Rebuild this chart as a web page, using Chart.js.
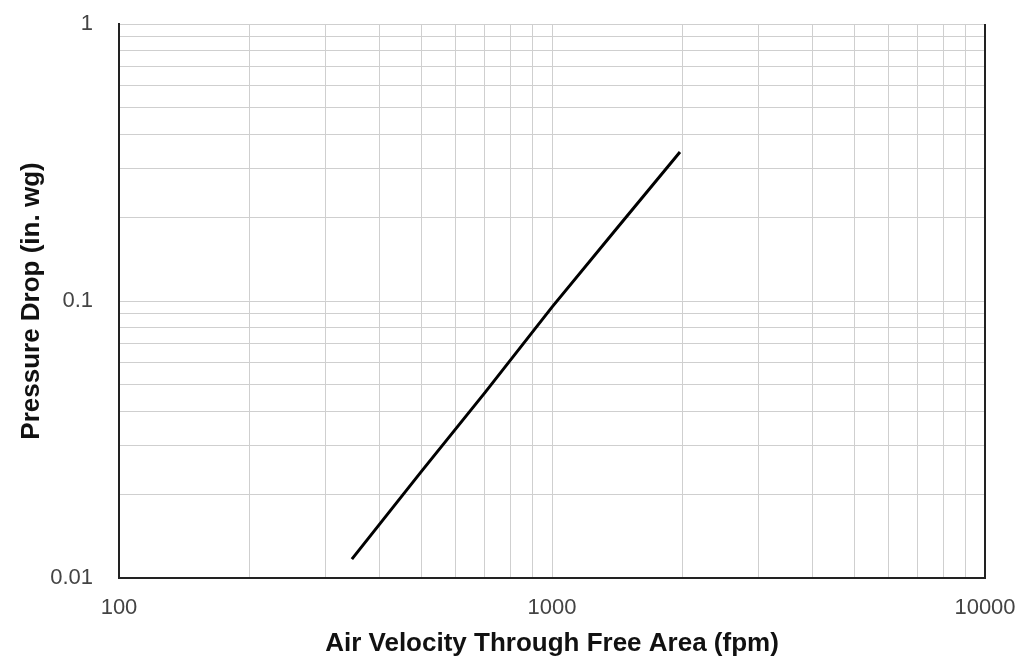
<!DOCTYPE html>
<html>
<head>
<meta charset="utf-8">
<script src="https://cdn.jsdelivr.net/npm/chart.js@4"></script>
<style>
  html, body { margin: 0; padding: 0; background: #fff; }
  #wrap { width: 1022px; height: 662px; }
</style>
</head>
<body>
<div id="wrap"><canvas id="chart"></canvas></div>
<script>
// air velocity (fpm) vs pressure drop (in. wg)
const velocity = [345, 500, 700, 1000, 1400, 1975];
const pressure = [0.0117, 0.0243, 0.0467, 0.095, 0.18, 0.345];

const xTickLabels = [100, 1000, 10000];
const yTickLabels = [0.01, 0.1, 1];

const xTitle = "Air Velocity Through Free Area (fpm)";
const yTitle = "Pressure Drop (in. wg)";

// 1..9 per decade for the log grid
function decadeTicks(labels) {
  const out = [];
  for (let i = 0; i < labels.length - 1; i++) {
    for (let k = 1; k < 10; k++) out.push({ value: labels[i] * k });
  }
  out.push({ value: labels[labels.length - 1] });
  return out;
}

function isLabel(v, labels) {
  return labels.some((l) => Math.abs(v - l) / l < 1e-6);
}

// right border of the plot
const rightBorder = {
  id: "rightBorder",
  afterDraw(chart) {
    const { ctx, chartArea } = chart;
    ctx.save();
    ctx.strokeStyle = "#222";
    ctx.lineWidth = 2;
    ctx.beginPath();
    ctx.moveTo(chartArea.right, chartArea.top);
    ctx.lineTo(chartArea.right, chartArea.bottom + 1);
    ctx.stroke();
    ctx.restore();
  },
};

document.addEventListener("DOMContentLoaded", function () {
  const ctx = document.getElementById("chart").getContext("2d");

  new Chart(ctx, {
    type: "scatter",
    data: {
      datasets: [
        {
          data: velocity.map((v, i) => ({ x: v, y: pressure[i] })),
          showLine: true,
          borderColor: "#000",
          borderWidth: 3,
          pointRadius: 0,
          fill: false,
        },
      ],
    },
    options: {
      responsive: true,
      maintainAspectRatio: false,
      animation: false,
      layout: { padding: { top: 24, right: 37, left: 0, bottom: 0 } },
      plugins: { legend: { display: false }, tooltip: { enabled: false } },
      scales: {
        x: {
          type: "logarithmic",
          min: 100,
          max: 10000,
          afterBuildTicks: (scale) => { scale.ticks = decadeTicks(xTickLabels); },
          afterFit: (scale) => {
            scale.height = 84;
            scale.paddingLeft = 0;
            scale.paddingRight = 0;
          },
          grid: { color: "#cfcfcf", lineWidth: 1, drawTicks: false },
          border: { color: "#222", width: 2 },
          ticks: {
            autoSkip: false,
            maxRotation: 0,
            padding: 17,
            color: "#444",
            font: { family: "Liberation Sans, Arial, sans-serif", size: 22 },
            callback: (v) => (isLabel(v, xTickLabels) ? String(v) : ""),
          },
          title: {
            display: true,
            text: xTitle,
            color: "#111",
            padding: { top: 0, bottom: 3 },
            font: { family: "Liberation Sans, Arial, sans-serif", size: 26, weight: "bold" },
          },
        },
        y: {
          type: "logarithmic",
          min: 0.01,
          max: 1,
          afterBuildTicks: (scale) => { scale.ticks = decadeTicks(yTickLabels); },
          afterFit: (scale) => {
            scale.width = 119;
            scale.paddingTop = 0;
            scale.paddingBottom = 0;
          },
          grid: { color: "#cfcfcf", lineWidth: 1, drawTicks: false },
          border: { color: "#222", width: 2 },
          ticks: {
            autoSkip: false,
            padding: 26,
            color: "#444",
            font: { family: "Liberation Sans, Arial, sans-serif", size: 22 },
            callback: (v) => (isLabel(v, yTickLabels) ? String(+v.toPrecision(3)) : ""),
          },
          title: {
            display: true,
            text: yTitle,
            color: "#111",
            padding: { top: 16, bottom: 0 },
            font: { family: "Liberation Sans, Arial, sans-serif", size: 26, weight: "bold" },
          },
        },
      },
    },
    plugins: [rightBorder],
  });
});
</script>
</body>
</html>
